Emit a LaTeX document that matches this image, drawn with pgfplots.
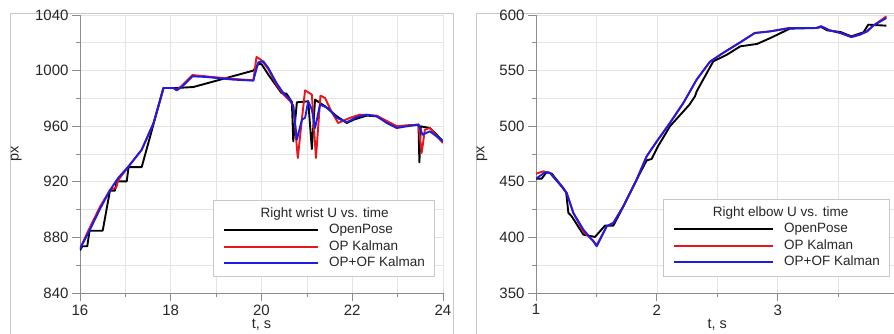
\documentclass[border=0pt]{standalone}
\usepackage{pgfplots}
\pgfplotsset{compat=1.18}
\usepackage{fontspec}
\setmainfont{Liberation Sans}
\definecolor{gridc}{HTML}{E4E4E4}
\definecolor{axc}{HTML}{8C8C8C}
\definecolor{framec}{HTML}{C8C8C8}
\definecolor{opred}{HTML}{E8161C}
\definecolor{opblue}{HTML}{1C1CE6}
\pgfplotsset{
 mystyle/.style={
  scale only axis, width=363pt, height=278pt,
  axis x line*=bottom, axis y line*=left,
  axis line style={axc, line width=0.8pt},
  tick align=outside, major tick length=8pt, minor tick length=4pt,
  tick style={axc, line width=0.7pt},
  minor tick num=1,
  grid=both, major grid style={gridc, line width=0.6pt}, minor grid style={gridc, line width=0.6pt},
  /pgf/number format/assume math mode=true,
  /pgf/number format/1000 sep={},
  tick label style={font=\fontsize{15}{17}\selectfont, text=black!85},
  label style={font=\fontsize{14.5}{16}\selectfont, text=black!85},
  xlabel={t, s}, ylabel={px},
  xlabel style={at={(axis description cs:0.5,-0.113)}, anchor=center},
  legend cell align=left,
  legend style={draw=framec, line width=0.8pt, fill=white, anchor=north west, inner xsep=10pt, inner ysep=7pt, font=\fontsize{13.5}{15}\selectfont, text=black!85, row sep=3.5pt, column sep=10pt, nodes={inner sep=0pt, text height=10pt, text depth=3pt}},
 },
 sb/.style={black, line width=1.9pt, line join=round},
 sr/.style={opred, line width=1.9pt, line join=round},
 su/.style={opblue, line width=1.9pt, line join=round},
}
\begin{document}
\begin{tikzpicture}
\path[use as bounding box] (0,0) rectangle (894pt,334pt);
\clip (0,0) rectangle (894pt,334pt);
\draw[framec, line width=0.8pt] (10pt,-10pt) rectangle (453pt,321pt);
\draw[framec, line width=0.8pt] (476pt,-10pt) rectangle (910pt,321pt);
\begin{axis}[mystyle, at={(80pt,41pt)}, anchor=south west,
  xmin=16, xmax=24, ymin=840, ymax=1040,
  xtick={16,18,20,22,24}, ytick={840,880,920,960,1000,1040},
  ylabel style={at={(axis description cs:-0.176,0.5)}, anchor=center},
  legend style={at={(axis description cs:0.366,0.335)}},
  legend image code/.code={\draw[#1] (0pt,0pt) -- (94pt,0pt);}]
\addlegendimage{empty legend}
\addlegendentry{\makebox[0pt][c]{\hspace*{-10pt}Right wrist U vs. time}}
\addplot[sb] coordinates {(16.0,870.7)(16.05,873.6)(16.16,873.6)(16.21,884.8)(16.5,884.8)(16.66,913.6)(16.77,913.6)(16.81,920.3)(17.03,920.3)(17.07,930.6)(17.36,930.6)(17.84,987.5)(18.13,987.5)(18.5,988.2)(19.82,1000)(19.93,1004.7)(20.0,1004.7)(20.15,997.1)(20.44,983.9)(20.55,983.4)(20.67,977.4)(20.70,949.1)(20.78,977.2)(21.03,977.9)(21.11,943.6)(21.18,979.1)(21.4,974.3)(21.66,967.1)(21.88,962.3)(22.03,964.7)(22.32,967.6)(22.54,967.1)(22.98,959.9)(23.46,961.1)(23.48,934)(23.51,959.9)(23.71,958.7)(23.86,953.9)(24.0,949.1)};
\addlegendentry{OpenPose}
\addplot[sr] coordinates {(16.0,872)(16.2,886)(16.44,902)(16.66,914)(16.8,916)(16.84,921)(17.07,931)(17.36,943)(17.62,962)(17.84,987.5)(18.06,987.5)(18.13,986)(18.24,989)(18.48,996.8)(18.79,995.8)(19.38,994)(19.82,993)(19.89,1009.8)(20.0,1007.5)(20.15,1001)(20.33,990)(20.48,983)(20.63,978)(20.70,975)(20.80,937.1)(20.89,964.7)(20.96,985.8)(21.11,982.7)(21.2,937.1)(21.3,982)(21.4,980.3)(21.55,970)(21.69,962.3)(21.95,966)(22.17,968.3)(22.54,967.6)(22.98,959.9)(23.46,961.1)(23.53,940.7)(23.6,957.5)(23.71,958.7)(23.86,953)(24.0,947.9)};
\addlegendentry{OP Kalman}
\addplot[su] coordinates {(16.0,871.7)(16.22,885.6)(16.44,900.4)(16.66,913.9)(16.84,922.7)(17.07,931.1)(17.36,943.1)(17.62,962.3)(17.84,987.5)(18.06,987.5)(18.13,985.8)(18.24,988.2)(18.48,995.9)(18.79,995.4)(19.38,993.5)(19.82,992.8)(19.93,1006)(20.04,1006.7)(20.15,1001.9)(20.33,991.1)(20.48,983.9)(20.63,979.1)(20.70,974.3)(20.78,950.3)(20.89,964.7)(20.96,966)(21.03,977.9)(21.11,971.9)(21.18,958.7)(21.29,975.5)(21.47,973)(21.66,966)(21.88,962.8)(22.1,966.6)(22.32,968.3)(22.54,967.1)(22.76,962.3)(22.98,958.7)(23.2,959.9)(23.46,961.1)(23.55,953.9)(23.71,956.3)(23.86,952.7)(24.0,949.1)};
\addlegendentry{OP+OF Kalman}
\end{axis}
\begin{axis}[mystyle, at={(536pt,41pt)}, anchor=south west, width=362.5pt,
  xmin=1, xmax=4, ymin=350, ymax=600,
  xtick={1,2,3,4}, ytick={350,400,450,500,550,600},
  ylabel style={at={(axis description cs:-0.149,0.5)}, anchor=center},
  legend style={at={(axis description cs:0.350,0.338)}},
  legend image code/.code={\draw[#1] (0pt,0pt) -- (99pt,0pt);}]
\addlegendimage{empty legend}
\addlegendentry{\makebox[0pt][c]{\hspace*{-8pt}Right elbow U vs. time}}
\addplot[sb] coordinates {(1.0,452.8)(1.047,452.8)(1.088,458.8)(1.13,457.3)(1.226,444.4)(1.25,440)(1.268,422)(1.295,419)(1.392,402.5)(1.488,400.4)(1.571,410.6)(1.64,410.6)(1.695,422)(1.833,452)(1.916,469.3)(1.957,470.5)(2.01,482)(2.109,500)(2.27,519.4)(2.316,527)(2.33,531.4)(2.467,558.3)(2.58,564.3)(2.69,571.8)(2.83,574)(2.94,579.3)(3.1,587.7)(3.32,588.3)(3.36,589.2)(3.41,586.2)(3.52,584.7)(3.61,580.8)(3.71,584.4)(3.75,591.3)(3.9,590.4)};
\addlegendentry{OpenPose}
\addplot[sr] coordinates {(1.0,457.3)(1.06,459.4)(1.116,458)(1.2,447.4)(1.254,440)(1.309,422)(1.392,405)(1.474,397)(1.502,393)(1.585,410)(1.64,413)(1.723,428)(1.833,452)(1.916,473)(2.0,486.4)(2.109,503)(2.22,521)(2.33,542)(2.44,558)(2.55,566)(2.69,575.4)(2.81,583.8)(2.94,585.3)(3.1,588.3)(3.32,588.3)(3.36,589.8)(3.43,586.2)(3.52,583.8)(3.61,580.2)(3.68,582.3)(3.74,585.3)(3.79,590.4)(3.9,598.8)};
\addlegendentry{OP Kalman}
\addplot[su] coordinates {(1.0,452.8)(1.074,458.5)(1.116,457.9)(1.2,447.4)(1.254,440)(1.309,422)(1.392,407)(1.474,396.5)(1.502,392)(1.585,410)(1.64,413)(1.723,428)(1.833,452)(1.916,473)(2.0,486.4)(2.109,503)(2.22,521)(2.33,542)(2.44,558)(2.55,566)(2.69,575.4)(2.81,583.8)(2.94,585.3)(3.1,588.3)(3.32,588.3)(3.36,589.8)(3.43,586.2)(3.52,583.8)(3.61,580.2)(3.68,582.3)(3.74,585.3)(3.79,590.4)(3.9,597.3)};
\addlegendentry{OP+OF Kalman}
\end{axis}
\end{tikzpicture}
\end{document}
